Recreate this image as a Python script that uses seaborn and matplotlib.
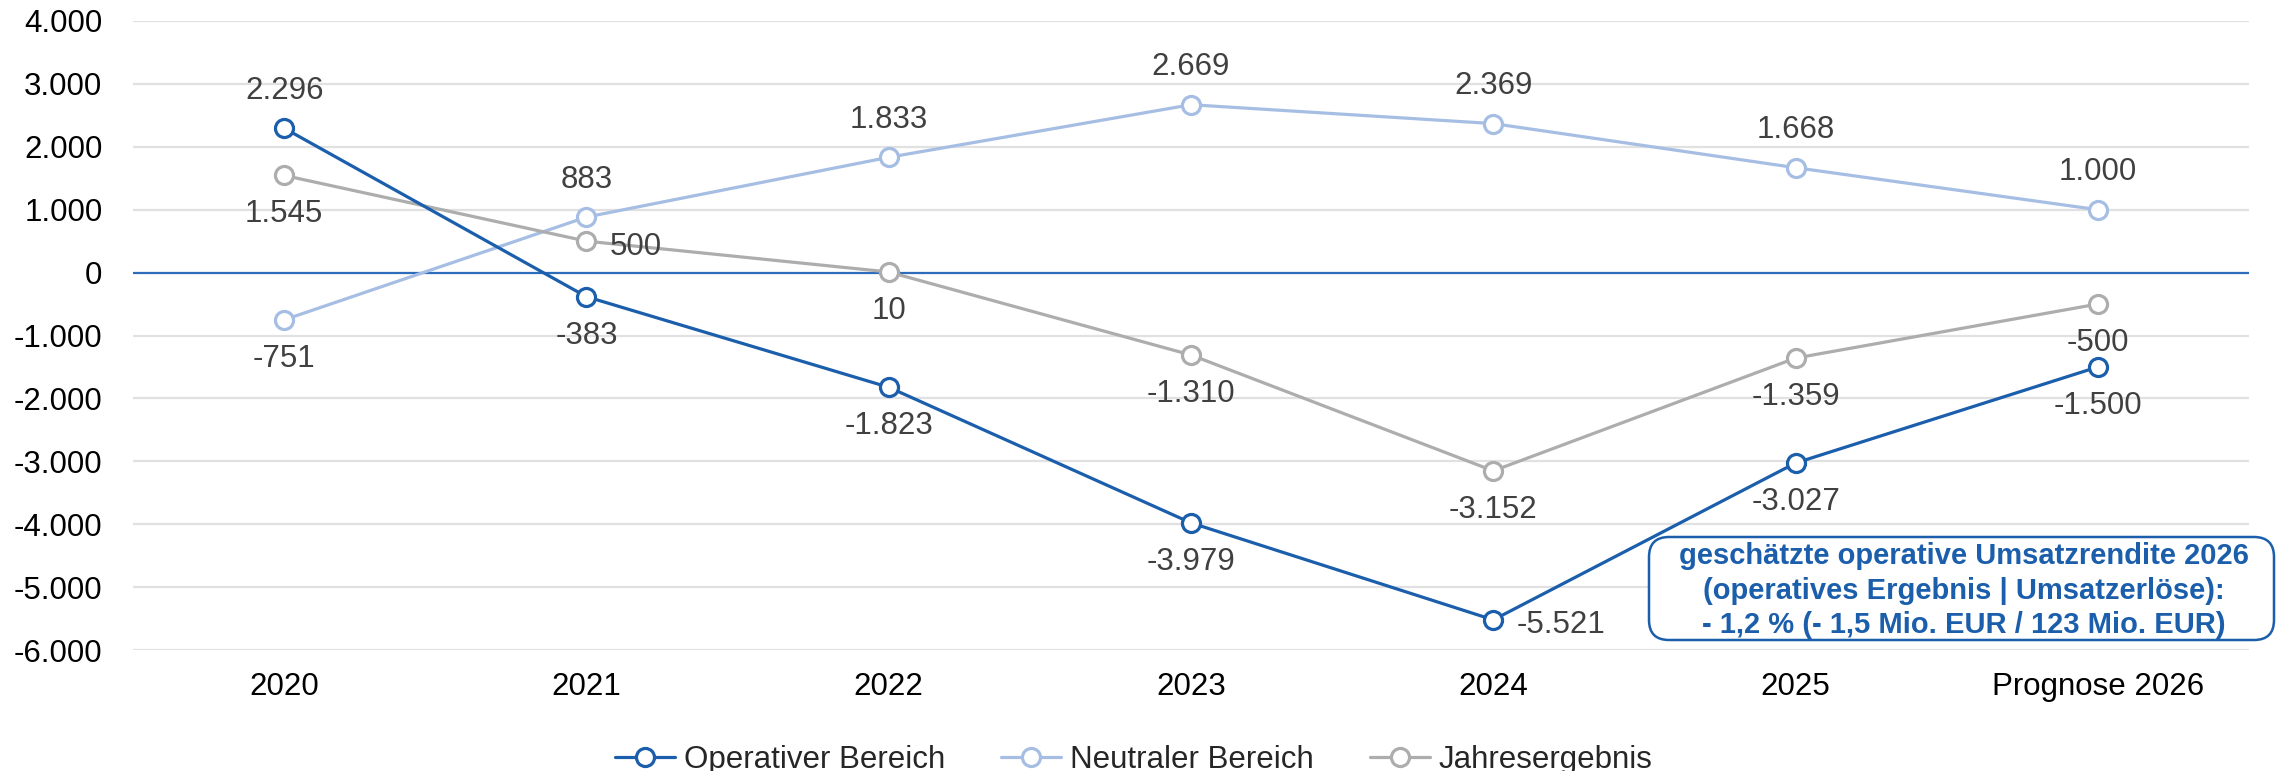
import matplotlib
matplotlib.use("Agg")
import matplotlib.pyplot as plt
import matplotlib.transforms as mtrans
from matplotlib.patches import FancyBboxPatch
import seaborn as sns
import pandas as pd

categories = ["2020", "2021", "2022", "2023", "2024", "2025", "Prognose 2026"]
operativ = [2296, -383, -1823, -3979, -5521, -3027, -1500]
neutral = [-751, 883, 1833, 2669, 2369, 1668, 1000]
jahres = [1545, 500, 10, -1310, -3152, -1359, -500]
series_names = ["Operativer Bereich", "Neutraler Bereich", "Jahresergebnis"]
y_ticks = [4000, 3000, 2000, 1000, 0, -1000, -2000, -3000, -4000, -5000, -6000]

# label placement per point (style only)
pos_operativ = ["above", "below", "below", "below", "right", "below", "below"]
pos_neutral = ["below", "above", "above", "above", "above", "above", "above"]
pos_jahres = ["below", "right", "below", "below", "below", "below", "below"]

box_lines = [
    "geschätzte operative Umsatzrendite 2026",
    "(operatives Ergebnis | Umsatzerlöse):",
    "- 1,2 % (- 1,5 Mio. EUR / 123 Mio. EUR)",
]

C_OP = "#1B5EAB"
C_NE = "#A6BEE3"
C_JA = "#ADADAD"
C_ZERO = "#2C6CBA"
C_GRID = "#E1E1E1"
C_LABEL = "#404040"
FS = 22.5

sns.set_theme(style="white")
plt.rcParams["font.family"] = ["Liberation Sans", "DejaVu Sans"]

fig = plt.figure(figsize=(22.77, 7.71), dpi=100)
ax = fig.add_axes([133 / 2277, 1 - 650 / 771, (2249 - 133) / 2277, (650 - 21) / 771])

def fmt(v):
    s = f"{abs(v):,.0f}".replace(",", ".")
    return ("-" if v < 0 else "") + s

for yv in y_ticks:
    if yv != 0:
        ax.axhline(yv, color=C_GRID, lw=1.6, zorder=0)
ax.axhline(0, color=C_ZERO, lw=1.6, zorder=1)

datasets = [(operativ, C_OP, pos_operativ, 5), (neutral, C_NE, pos_neutral, 3), (jahres, C_JA, pos_jahres, 4)]
for name, (vals, col, poss, z) in zip(series_names, datasets):
    df = pd.DataFrame({"x": list(range(len(categories))), "y": vals})
    sns.lineplot(data=df, x="x", y="y", ax=ax, color=col, lw=2.3, marker="o",
                 markersize=13, markerfacecolor="white", markeredgecolor=col,
                 markeredgewidth=2.3, label=name, zorder=z, sort=False)
    for i, (v, p) in enumerate(zip(vals, poss)):
        if p == "above":
            ax.annotate(fmt(v), (i, v), xytext=(0, 27), textcoords="offset points",
                        ha="center", va="center", fontsize=FS, color=C_LABEL, zorder=6)
        elif p == "below":
            ax.annotate(fmt(v), (i, v), xytext=(0, -28), textcoords="offset points",
                        ha="center", va="center", fontsize=FS, color=C_LABEL, zorder=6)
        else:
            ax.annotate(fmt(v), (i, v), xytext=(17, -4), textcoords="offset points",
                        ha="left", va="center", fontsize=FS, color=C_LABEL, zorder=6)

ax.set_xlim(-0.5, len(categories) - 0.5)
ax.set_ylim(-6000, 4000)
ax.set_xticks(range(len(categories)))
ax.set_xticklabels(categories, fontsize=FS, color="black")
ax.set_yticks(y_ticks)
ax.set_yticklabels([fmt(v) for v in y_ticks], fontsize=FS, color="black")
ax.tick_params(axis="y", length=0, pad=22)
ax.tick_params(axis="x", length=0, pad=16)
ax.set_xlabel("")
ax.set_ylabel("")
for s in ax.spines.values():
    s.set_visible(False)

handles, labels = ax.get_legend_handles_labels()
if ax.legend_:
    ax.legend_.remove()
fig.legend(handles, labels, loc="center", bbox_to_anchor=(0.498, 1 - 760 / 771),
           ncol=3, frameon=False, fontsize=FS, handlelength=1.9, handletextpad=0.3,
           columnspacing=1.8)

# annotation box (pixel coordinates)
box = FancyBboxPatch((1649, 771 - 640), 2274 - 1649, 640 - 537,
                     boxstyle="round,pad=0,rounding_size=20",
                     transform=mtrans.IdentityTransform(), facecolor="white",
                     edgecolor=C_OP, lw=1.8, zorder=10)
fig.add_artist(box)
for line, yc in zip(box_lines, [556, 591, 625]):
    fig.text(1964 / 2277, 1 - yc / 771, line, ha="center", va="center",
             fontsize=21, fontweight="bold", color=C_OP, zorder=11)

fig.savefig("out.png", dpi=100)
